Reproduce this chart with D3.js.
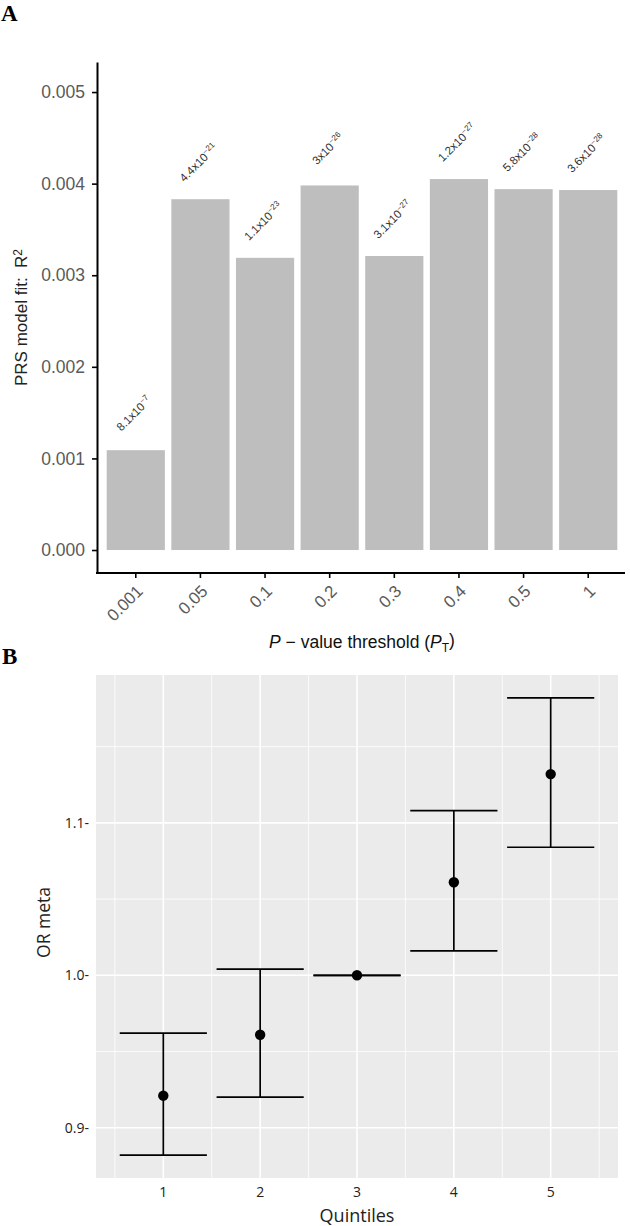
<!DOCTYPE html>
<html>
<head>
<meta charset="utf-8">
<script src="https://cdn.jsdelivr.net/npm/d3@7"></script>
<style>
  html, body { margin: 0; padding: 0; background: #fff; }
  svg { display: block; }
</style>
</head>
<body>
<svg id="chart" width="630" height="1226"></svg>
<script>
// ---------- Data: panel A ----------
const thresholds = ["0.001", "0.05", "0.1", "0.2", "0.3", "0.4", "0.5", "1"];
const r2Values   = [0.00109, 0.00383, 0.00319, 0.00398, 0.00321, 0.00405, 0.00394, 0.00393];
const pMantissa  = ["8.1", "4.4", "1.1", "3", "3.1", "1.2", "5.8", "3.6"];
const pExponent  = ["7", "21", "23", "26", "27", "27", "28", "28"];
const yTicksA    = [0, 0.001, 0.002, 0.003, 0.004, 0.005];

// ---------- Data: panel B ----------
const quintiles  = [1, 2, 3, 4, 5];
const orMeta     = [0.921, 0.961, 1.000, 1.061, 1.132];
const orLow      = [0.882, 0.920, 1.000, 1.016, 1.084];
const orHigh     = [0.962, 1.004, 1.000, 1.108, 1.182];
const yTicksB    = [0.9, 1.0, 1.1];
const yTickLabelsB = ["0.9-", "1.0-", "1.1-"];

const svg = d3.select("#chart");

// Panel letters
svg.append("text").attr("x", 1).attr("y", 21)
  .attr("font-family", "Liberation Serif, Times New Roman, serif")
  .attr("font-weight", "bold").attr("font-size", 23).attr("fill", "#000").text("A");
svg.append("text").attr("x", 2).attr("y", 664)
  .attr("font-family", "Liberation Serif, Times New Roman, serif")
  .attr("font-weight", "bold").attr("font-size", 23).attr("fill", "#000").text("B");

// ================= Panel A =================
const fontA = "Liberation Sans, Arial, Helvetica, sans-serif";
const A = { left: 97, right: 627, top: 62, bottom: 573 };

const xA = d3.scaleBand().domain(thresholds).range([A.left, A.right])
  .paddingInner(0.1).paddingOuter(0.15);
const yA = d3.scaleLinear().domain([-0.000251, 0.005328]).range([A.bottom, A.top]);

const gA = svg.append("g");

// bars
gA.selectAll("rect.bar").data(thresholds).join("rect")
  .attr("class", "bar")
  .attr("x", d => xA(d))
  .attr("width", xA.bandwidth())
  .attr("y", (d, i) => yA(r2Values[i]))
  .attr("height", (d, i) => yA(0) - yA(r2Values[i]))
  .attr("fill", "#bebebe");

// P-value labels
const labOffset = 0.0004;
const labels = gA.selectAll("text.plab").data(thresholds).join("text")
  .attr("class", "plab")
  .attr("transform", (d, i) => `translate(${xA(d) + xA.bandwidth() / 2 - 2},${yA(r2Values[i] + labOffset)}) rotate(-45)`)
  .attr("text-anchor", "middle")
  .attr("font-family", fontA)
  .attr("font-size", 11.5)
  .attr("fill", "#333");
labels.append("tspan").attr("dy", "0.35em").text((d, i) => pMantissa[i] + "x10");
labels.append("tspan").attr("dy", "-0.55em").attr("font-size", 8).text((d, i) => "\u2212" + pExponent[i]);

// axes
const axA_y = gA.append("g").attr("transform", `translate(${A.left},0)`)
  .call(d3.axisLeft(yA).tickValues(yTicksA).tickFormat(d3.format(".3f"))
    .tickSize(5).tickSizeOuter(0).tickPadding(7));
axA_y.select(".domain").attr("stroke", "#000").attr("stroke-width", 2);
axA_y.selectAll(".tick line").attr("stroke", "#000").attr("stroke-width", 1.6);
axA_y.selectAll(".tick text").attr("font-family", fontA).attr("font-size", 17.5).attr("fill", "#5a5a5a");

const axA_x = gA.append("g").attr("transform", `translate(0,${A.bottom})`)
  .call(d3.axisBottom(xA).tickSize(5).tickSizeOuter(0));
axA_x.select(".domain").attr("stroke", "#000").attr("stroke-width", 2)
  .attr("d", `M${A.left - 1},0H${A.right - 2}`);
axA_x.selectAll(".tick line").attr("stroke", "#000").attr("stroke-width", 1.6);
axA_x.selectAll(".tick text")
  .attr("font-family", fontA).attr("font-size", 17).attr("fill", "#5a5a5a")
  .attr("text-anchor", "end")
  .attr("y", null).attr("dy", "0.35em")
  .attr("transform", "translate(4,15) rotate(-45)");

// axis titles
const yTitleA = svg.append("text")
  .attr("transform", `translate(27,${(A.top + A.bottom) / 2}) rotate(-90)`)
  .attr("text-anchor", "middle").attr("font-family", fontA).attr("font-size", 17)
  .attr("fill", "#222").style("white-space", "pre");
yTitleA.append("tspan").text("PRS model fit:  R");
yTitleA.append("tspan").attr("dy", "-0.45em").attr("font-size", 12).text("2");

const xTitleA = svg.append("text")
  .attr("x", (A.left + A.right) / 2).attr("y", 648)
  .attr("text-anchor", "middle").attr("font-family", fontA).attr("font-size", 17.5)
  .attr("fill", "#111").style("white-space", "pre");
xTitleA.append("tspan").attr("font-style", "italic").text("P");
xTitleA.append("tspan").text(" \u2212 value threshold (");
xTitleA.append("tspan").attr("font-style", "italic").text("P");
xTitleA.append("tspan").attr("dy", "0.3em").attr("font-size", 12).text("T");
xTitleA.append("tspan").attr("dy", "-0.3em").text(")");

// ================= Panel B =================
const fontB = "Open Sans, Noto Sans, sans-serif";
const B = { left: 96, right: 618, top: 675, bottom: 1178 };

const xB = d3.scaleLinear().domain([0.305, 5.695]).range([B.left, B.right]);
const yB = d3.scaleLinear().domain([0.867, 1.197]).range([B.bottom, B.top]);

const gB = svg.append("g");
gB.append("rect").attr("x", B.left).attr("y", B.top)
  .attr("width", B.right - B.left).attr("height", B.bottom - B.top).attr("fill", "#ebebeb");

// minor grid
const xMinor = [0.5, 1.5, 2.5, 3.5, 4.5, 5.5];
const yMinor = [0.95, 1.05, 1.15];
gB.selectAll("line.xminor").data(xMinor).join("line")
  .attr("x1", d => xB(d)).attr("x2", d => xB(d)).attr("y1", B.top).attr("y2", B.bottom)
  .attr("stroke", "#fff").attr("stroke-width", 0.8);
gB.selectAll("line.yminor").data(yMinor).join("line")
  .attr("y1", d => yB(d)).attr("y2", d => yB(d)).attr("x1", B.left).attr("x2", B.right)
  .attr("stroke", "#fff").attr("stroke-width", 0.8);
// major grid
gB.selectAll("line.xmajor").data(quintiles).join("line")
  .attr("x1", d => xB(d)).attr("x2", d => xB(d)).attr("y1", B.top).attr("y2", B.bottom)
  .attr("stroke", "#fff").attr("stroke-width", 1.6);
gB.selectAll("line.ymajor").data(yTicksB).join("line")
  .attr("y1", d => yB(d)).attr("y2", d => yB(d)).attr("x1", B.left).attr("x2", B.right)
  .attr("stroke", "#fff").attr("stroke-width", 1.6);

// error bars
const halfW = 0.45;
const eb = gB.selectAll("g.eb").data(quintiles).join("g").attr("class", "eb");
eb.append("line")
  .attr("x1", d => xB(d)).attr("x2", d => xB(d))
  .attr("y1", (d, i) => yB(orLow[i])).attr("y2", (d, i) => yB(orHigh[i]))
  .attr("stroke", "#000").attr("stroke-width", 1.7);
eb.append("line")
  .attr("x1", d => xB(d - halfW)).attr("x2", d => xB(d + halfW))
  .attr("y1", (d, i) => yB(orHigh[i])).attr("y2", (d, i) => yB(orHigh[i]))
  .attr("stroke", "#000").attr("stroke-width", 1.7);
eb.append("line")
  .attr("x1", d => xB(d - halfW)).attr("x2", d => xB(d + halfW))
  .attr("y1", (d, i) => yB(orLow[i])).attr("y2", (d, i) => yB(orLow[i]))
  .attr("stroke", "#000").attr("stroke-width", 1.7);
eb.append("circle")
  .attr("cx", d => xB(d)).attr("cy", (d, i) => yB(orMeta[i])).attr("r", 5.2)
  .attr("fill", "#000");

// tick labels
gB.selectAll("text.ytB").data(yTicksB).join("text")
  .attr("x", 89).attr("y", d => yB(d)).attr("dy", "0.35em")
  .attr("text-anchor", "end").attr("font-family", fontB).attr("font-size", 14)
  .attr("fill", "#222").text((d, i) => yTickLabelsB[i]);
gB.selectAll("text.xtB").data(quintiles).join("text")
  .attr("x", d => xB(d)).attr("y", 1197)
  .attr("text-anchor", "middle").attr("font-family", fontB).attr("font-size", 14)
  .attr("fill", "#222").text(d => String(d));

// titles
svg.append("text")
  .attr("transform", `translate(50,${(B.top + B.bottom) / 2 - 4}) rotate(-90)`)
  .attr("text-anchor", "middle").attr("font-family", fontB).attr("font-size", 17.5)
  .attr("fill", "#222").text("OR meta");
svg.append("text")
  .attr("x", (B.left + B.right) / 2).attr("y", 1222)
  .attr("text-anchor", "middle").attr("font-family", fontB).attr("font-size", 18)
  .attr("fill", "#222").text("Quintiles");
</script>
</body>
</html>
